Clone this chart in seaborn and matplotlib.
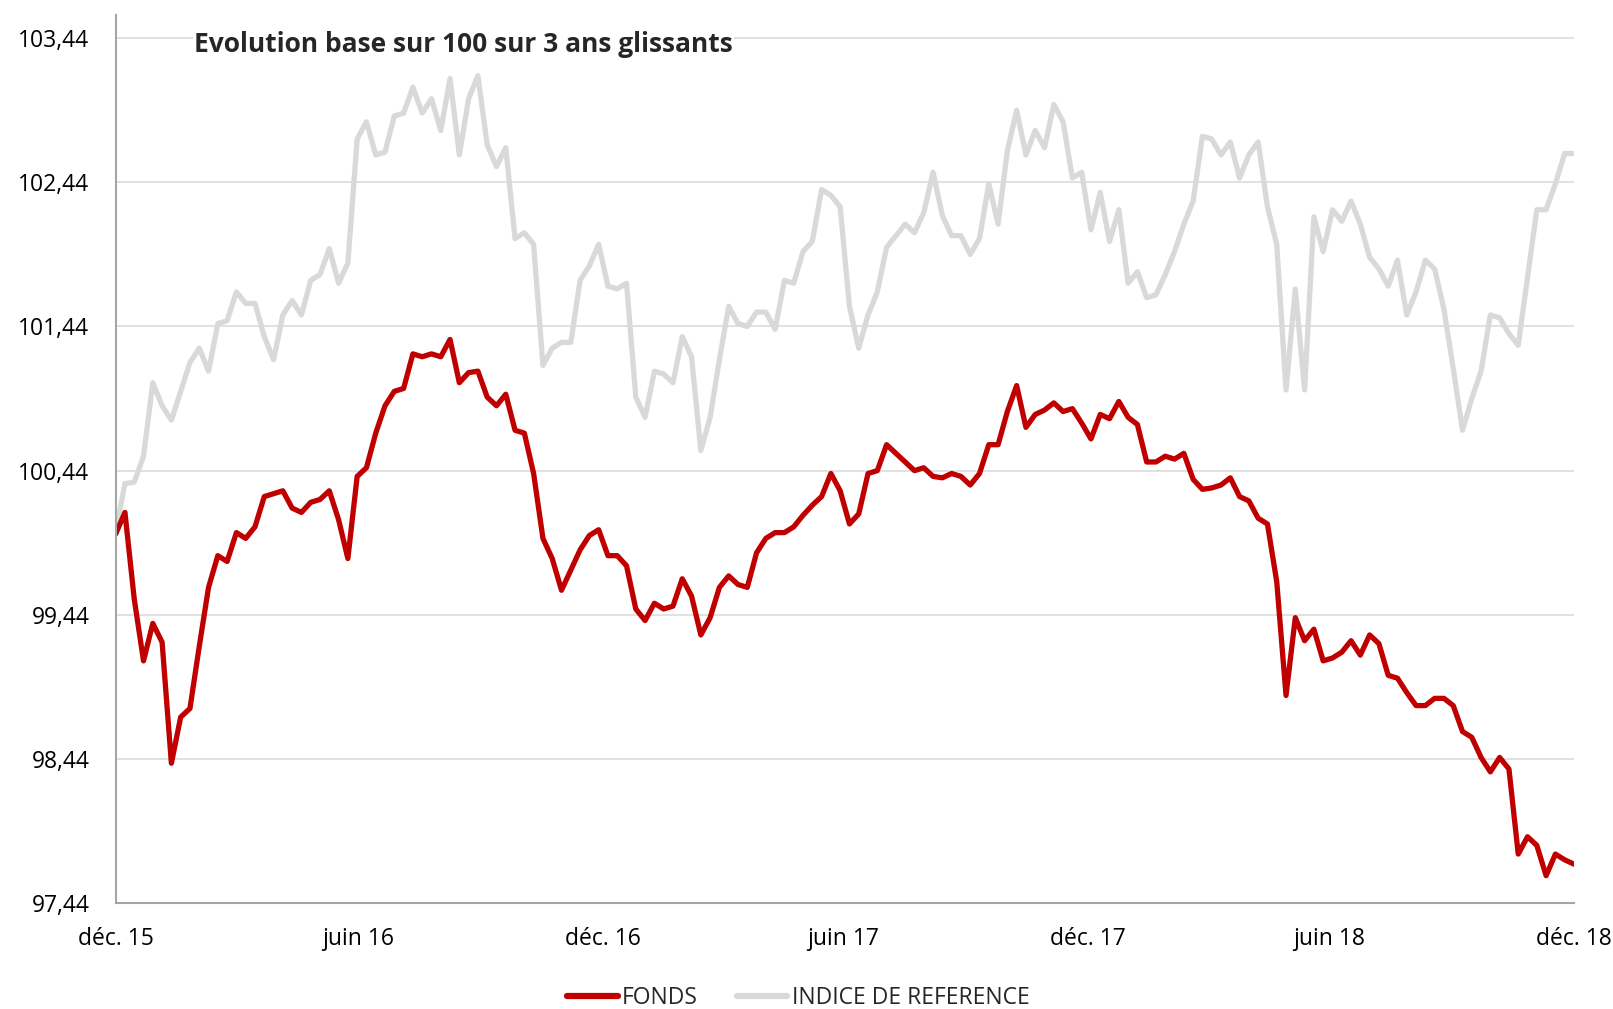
import pandas as pd
import numpy as np
import matplotlib
matplotlib.use("Agg")
import matplotlib.pyplot as plt
import matplotlib.dates as mdates
from matplotlib.ticker import FixedLocator, FuncFormatter
import seaborn as sns

# weekly points (base 100)
fonds = [
    100.0, 100.15, 99.55, 99.12, 99.38, 99.25, 98.41, 98.73, 98.79, 99.22,
    99.63, 99.85, 99.81, 100.01, 99.97, 100.05, 100.26, 100.28, 100.3, 100.18,
    100.15, 100.22, 100.24, 100.3, 100.1, 99.83, 100.4, 100.46, 100.7, 100.89,
    100.99, 101.01, 101.25, 101.23, 101.25, 101.23, 101.35, 101.05, 101.12, 101.13,
    100.95, 100.89, 100.97, 100.72, 100.7, 100.42, 99.97, 99.83, 99.61, 99.75,
    99.89, 99.99, 100.03, 99.85, 99.85, 99.78, 99.48, 99.4, 99.52, 99.48,
    99.5, 99.69, 99.57, 99.3, 99.42, 99.63, 99.71, 99.65, 99.63, 99.87,
    99.97, 100.01, 100.01, 100.05, 100.13, 100.2, 100.26, 100.42, 100.3, 100.07,
    100.14, 100.42, 100.44, 100.62, 100.56, 100.5, 100.44, 100.46, 100.4, 100.39,
    100.42, 100.4, 100.34, 100.42, 100.62, 100.62, 100.85, 101.03, 100.74, 100.83,
    100.86, 100.91, 100.85, 100.87, 100.77, 100.66, 100.83, 100.8, 100.92, 100.81,
    100.76, 100.5, 100.5, 100.54, 100.52, 100.56, 100.38, 100.31, 100.32, 100.34,
    100.39, 100.26, 100.23, 100.11, 100.07, 99.67, 98.88, 99.42, 99.26, 99.34,
    99.12, 99.14, 99.18, 99.26, 99.16, 99.3, 99.24, 99.02, 99.0, 98.9,
    98.81, 98.81, 98.86, 98.86, 98.81, 98.63, 98.59, 98.45, 98.35, 98.45,
    98.37, 97.78, 97.9, 97.84, 97.63, 97.78, 97.74, 97.71,
]

indice = [
    100.01, 100.35, 100.36, 100.54, 101.05, 100.89, 100.79, 100.99, 101.19, 101.29,
    101.13, 101.46, 101.48, 101.68, 101.6, 101.6, 101.37, 101.21, 101.52, 101.62,
    101.52, 101.76, 101.8, 101.98, 101.74, 101.88, 102.74, 102.86, 102.63, 102.65,
    102.9, 102.92, 103.1, 102.92, 103.02, 102.8, 103.16, 102.63, 103.02, 103.18,
    102.7, 102.55, 102.68, 102.05, 102.09, 102.01, 101.17, 101.29, 101.33, 101.33,
    101.76, 101.86, 102.01, 101.72, 101.7, 101.74, 100.95, 100.81, 101.13, 101.11,
    101.05, 101.37, 101.23, 100.58, 100.81, 101.21, 101.58, 101.46, 101.44, 101.54,
    101.54, 101.42, 101.76, 101.74, 101.96, 102.03, 102.39, 102.35, 102.27, 101.58,
    101.29, 101.52, 101.68, 101.99, 102.07, 102.15, 102.09, 102.23, 102.51, 102.21,
    102.07, 102.07, 101.94, 102.05, 102.43, 102.15, 102.66, 102.94, 102.63, 102.8,
    102.68, 102.98, 102.86, 102.47, 102.51, 102.11, 102.37, 102.03, 102.25, 101.74,
    101.82, 101.64, 101.66, 101.8, 101.96, 102.15, 102.31, 102.76, 102.74, 102.63,
    102.72, 102.47, 102.63, 102.72, 102.27, 102.01, 101.0, 101.7, 101.0, 102.2,
    101.96, 102.25, 102.17, 102.31, 102.15, 101.92, 101.84, 101.72, 101.9, 101.52,
    101.68, 101.9, 101.84, 101.56, 101.15, 100.72, 100.94, 101.13, 101.52, 101.5,
    101.39, 101.31, 101.78, 102.25, 102.25, 102.43, 102.64, 102.64,
]

dates = pd.date_range("2015-12-31", "2018-12-31", periods=len(fonds))

tick_dates = pd.to_datetime(["2015-12-31", "2016-06-30", "2016-12-31", "2017-06-30",
                             "2017-12-31", "2018-06-30", "2018-12-31"])
tick_labels = ["déc. 15", "juin 16", "déc. 16", "juin 17", "déc. 17", "juin 18", "déc. 18"]
y_ticks = [97.44, 98.44, 99.44, 100.44, 101.44, 102.44, 103.44]

df = pd.DataFrame({
    "date": np.concatenate([dates, dates]),
    "valeur": fonds + indice,
    "serie": ["FONDS"] * len(fonds) + ["INDICE DE REFERENCE"] * len(indice),
})

sns.set_style("white")
plt.rcParams["font.family"] = ["Open Sans", "DejaVu Sans"]

fig = plt.figure(figsize=(16.13, 10.09), dpi=100)
ax = fig.add_axes([0.0717, 0.105, 0.9041, 0.880])

palette = {"FONDS": "#C00000", "INDICE DE REFERENCE": "#D9D9D9"}
sns.lineplot(data=df, x="date", y="valeur", hue="serie",
             hue_order=["INDICE DE REFERENCE", "FONDS"],
             palette=palette, linewidth=3.8, ax=ax, legend=False)

ax.set_xlim(dates[0], dates[-1])
ax.set_ylim(97.44, 103.6)
ax.set_xlabel("")
ax.set_ylabel("")

ax.xaxis.set_major_locator(FixedLocator(mdates.date2num(tick_dates)))
ax.set_xticklabels(tick_labels)
ax.yaxis.set_major_locator(FixedLocator(y_ticks))
ax.yaxis.set_major_formatter(FuncFormatter(lambda v, p: f"{v:.2f}".replace(".", ",")))

ax.grid(axis="y", color="#D9D9D9", linewidth=1.1)
ax.set_axisbelow(True)
for s in ["top", "right"]:
    ax.spines[s].set_visible(False)
for s in ["left", "bottom"]:
    ax.spines[s].set_color("#A6A6A6")
    ax.spines[s].set_linewidth(1.5)

ax.tick_params(axis="both", direction="out", length=8, width=1.2, color="#A6A6A6",
               labelsize=16.5, labelcolor="black")
ax.tick_params(axis="x", pad=9)
ax.tick_params(axis="y", pad=11)

ax.text(0.054, 0.967, "Evolution base sur 100 sur 3 ans glissants",
        transform=ax.transAxes, fontsize=19, fontweight="bold", va="center", ha="left",
        bbox=dict(facecolor="white", edgecolor="none", pad=1))

handles = [plt.Line2D([], [], color=palette["FONDS"], linewidth=4.5),
           plt.Line2D([], [], color=palette["INDICE DE REFERENCE"], linewidth=4.5)]
fig.legend(handles, ["FONDS", "INDICE DE REFERENCE"], loc="lower center",
           bbox_to_anchor=(0.495, -0.021), ncol=2, frameon=False, fontsize=16.5,
           handlelength=2.2, handletextpad=0.2, columnspacing=1.7)

plt.savefig("out.png", dpi=100)
plt.close()
